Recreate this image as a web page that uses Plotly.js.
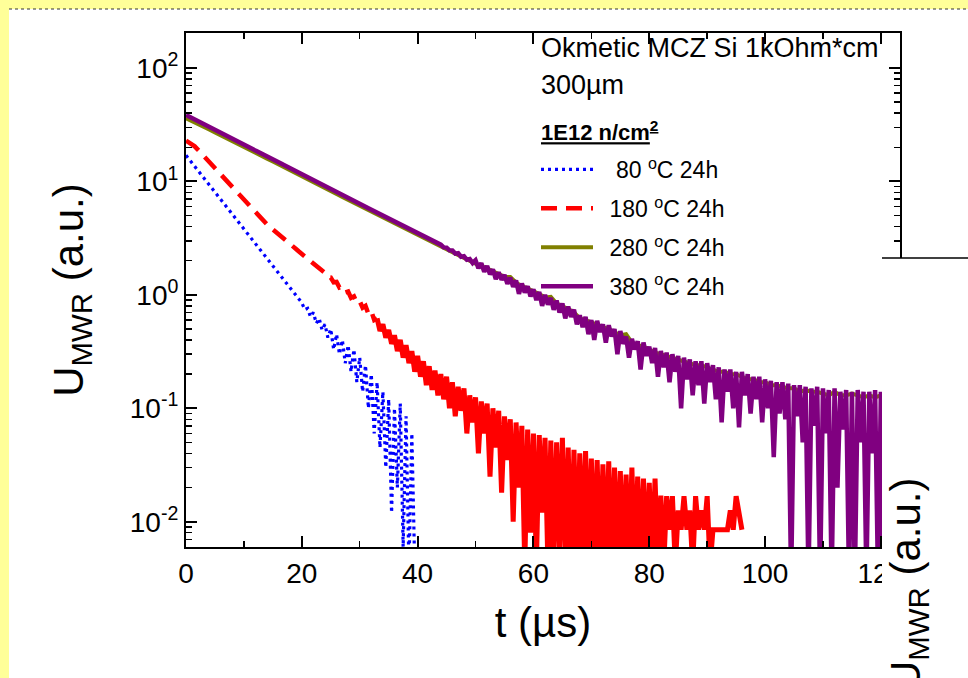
<!DOCTYPE html>
<html>
<head>
<meta charset="utf-8">
<script src="https://cdn.plot.ly/plotly-3.0.1.min.js"></script>
<style>
html,body{margin:0;padding:0;background:#FFFF99;}
#chart{width:968px;height:678px;}
</style>
</head>
<body>
<div id="chart"></div>
<script>
// ---------------- data ----------------
const seriesNames = ['\u2002\u00a080 <sup>o</sup>C 24h', '\u2002180 <sup>o</sup>C 24h', '\u2002280 <sup>o</sup>C 24h', '\u2002380 <sup>o</sup>C 24h'];
const seriesColors = ['#0000FF', '#FF0000', '#808000', '#800080'];

// sampling steps in microseconds (all series start at t = 0)
const t80Step = 0.5, t180Step = 0.5, t280Step = 1.0, t380Step = 0.5;
// time from which the 180 C trace is noisy enough to look solid
const t180NoisyFrom = 33;

// U_MWR (a.u.) for 80 C 24h
const u80 = [
17.0, 15.8, 14.6, 13.6, 12.6, 11.7, 10.9, 10.1, 9.35, 8.68,
8.05, 7.47, 6.93, 6.43, 5.97, 5.54, 5.14, 4.77, 4.43, 4.11,
3.81, 3.54, 3.28, 3.05, 2.83, 2.62, 2.43, 2.26, 2.10, 1.94,
1.80, 1.67, 1.55, 1.44, 1.34, 1.24, 1.15, 1.07, 0.99, 0.92,
0.853, 0.74, 0.76, 0.64, 0.70, 0.56, 0.62, 0.49, 0.55, 0.42,
0.50, 0.33, 0.45, 0.30, 0.40, 0.25, 0.36, 0.21, 0.33, 0.17,
0.28, 0.14, 0.24, 0.10, 0.20, 0.06, 0.17, 0.045, 0.14, 0.03,
0.12, 0.012, 0.10, 0.02, 0.11, 0.006, 0.085, 0.004, 0.06, 0.004
];

// U_MWR (a.u.) for 180 C 24h
const u180 = [
22.9, 22.1, 21.4, 20.4, 19.2, 18.0, 16.9, 15.8, 14.9, 14.0,
13.1, 12.3, 11.5, 10.8, 10.1, 9.53, 8.93, 8.38, 7.87, 7.38,
6.92, 6.49, 6.10, 5.71, 5.37, 5.04, 4.73, 4.44, 4.17, 3.96,
3.78, 3.59, 3.42, 3.25, 3.09, 2.94, 2.80, 2.66, 2.54, 2.41,
2.29, 2.18, 2.07, 1.97, 1.88, 1.79, 1.70, 1.62,
1.56, 1.43, 1.42, 1.29, 1.30, 1.16, 1.18, 1.05, 1.07, 0.94,
0.97, 0.85, 0.88, 0.77, 0.80, 0.68, 0.72, 0.60, 0.62, 0.48,
0.55, 0.42, 0.49, 0.37, 0.44, 0.32, 0.40, 0.28, 0.36, 0.25,
0.32, 0.21, 0.29, 0.19, 0.26, 0.16, 0.235, 0.145, 0.215, 0.13,
0.20, 0.12, 0.19, 0.10, 0.17, 0.085, 0.155, 0.095, 0.15, 0.06,
0.13, 0.075, 0.125, 0.04, 0.115, 0.06, 0.11, 0.025, 0.10, 0.045,
0.095, 0.018, 0.085, 0.035, 0.08, 0.01, 0.075, 0.02, 0.07, 0.004,
0.065, 0.008, 0.06, 0.004, 0.058, 0.012, 0.055, 0.004, 0.052, 0.004,
0.05, 0.006, 0.055, 0.004, 0.045, 0.004, 0.043, 0.004, 0.04, 0.005,
0.042, 0.004, 0.036, 0.004, 0.035, 0.004, 0.032, 0.004, 0.034, 0.004,
0.030, 0.004, 0.028, 0.004, 0.026, 0.004, 0.03, 0.004, 0.025, 0.004,
0.024, 0.004, 0.022, 0.004, 0.024, 0.004, 0.017, 0.004, 0.0168, 0.0085,
0.0168, 0.004, 0.0126, 0.0085, 0.0168, 0.0085, 0.0126, 0.004, 0.0168, 0.0085,
0.0126, 0.0085, 0.0168, 0.004, 0.0085, 0.0085, 0.0085, 0.0085, 0.0085, 0.0085,
0.0126, 0.0085, 0.0168, 0.0126, 0.0085
];

// U_MWR (a.u.) for 280 C 24h
const u280 = [
36.0, 34.2, 32.3, 30.4, 28.7, 27.1, 25.6, 24.1, 22.7, 21.4,
20.2, 19.0, 17.9, 16.9, 15.9, 15.0, 14.1, 13.3, 12.5, 11.8,
11.1, 10.5, 9.85, 9.28, 8.74, 8.23, 7.75, 7.30, 6.88, 6.48,
6.10, 5.75, 5.42, 5.10, 4.81, 4.53, 4.27, 4.02, 3.79, 3.57,
3.37, 3.17, 2.99, 2.82, 2.66, 2.51, 2.37, 2.24, 2.11, 1.99,
1.88, 1.80, 1.70, 1.62, 1.50, 1.44, 1.44, 1.28, 1.20, 1.14,
1.07, 1.02, 0.95, 0.96, 0.84, 0.80, 0.75, 0.70, 0.62, 0.60,
0.57, 0.55, 0.52, 0.50, 0.47, 0.44, 0.45, 0.38, 0.36, 0.35,
0.33, 0.31, 0.30, 0.29, 0.28, 0.27, 0.26, 0.25, 0.24, 0.24,
0.23, 0.22, 0.21, 0.21, 0.20, 0.20, 0.19, 0.18, 0.18, 0.17,
0.17, 0.16, 0.16, 0.155, 0.15, 0.15, 0.14, 0.145, 0.14, 0.14,
0.135, 0.13, 0.14, 0.13, 0.13, 0.135, 0.13, 0.125, 0.13, 0.125,
0.13, 0.125, 0.125, 0.13
];

// U_MWR (a.u.) for 380 C 24h
const u380 = [
38.5, 37.4, 36.3, 35.2, 34.1, 33.1, 32.2, 31.2, 30.3, 29.4,
28.5, 27.7, 26.9, 26.1, 25.3, 24.6, 23.8, 23.1, 22.4, 21.8,
21.1, 20.5, 19.9, 19.3, 18.7, 18.2, 17.6, 17.1, 16.6, 16.1,
15.6, 15.2, 14.7, 14.3, 13.9, 13.5, 13.1, 12.7, 12.3, 11.9,
11.6, 11.2, 10.9, 10.6, 10.3, 9.97, 9.67, 9.39, 9.11, 8.84,
8.58, 8.33, 8.08, 7.84, 7.61, 7.39, 7.17, 6.96, 6.75, 6.55,
6.36, 6.17, 5.99, 5.81, 5.64, 5.47, 5.31, 5.15, 5.00, 4.85,
4.71, 4.57, 4.43, 4.30, 4.18, 4.05, 3.93, 3.82, 3.70, 3.59,
3.49, 3.36, 3.30, 3.16, 3.11, 2.96, 2.93, 2.80, 2.77, 2.62,
2.61, 2.47, 2.46, 2.31, 2.33, 2.17, 2.19, 2.04, 2.07, 1.91,
2.02, 1.72, 1.90, 1.60, 1.80, 1.52, 1.68, 1.38, 1.58, 1.36,
1.50, 1.25, 1.42, 1.18, 1.34, 1.02, 1.26, 1.05, 1.19, 0.97,
1.12, 0.90, 1.06, 0.80, 1.00, 0.82, 0.94, 0.74, 0.89, 0.70,
0.84, 0.62, 0.79, 0.64, 0.74, 0.55,
0.66, 0.52, 0.64, 0.45, 0.60, 0.40, 0.59, 0.47, 0.55, 0.38,
0.54, 0.43, 0.50, 0.30, 0.48, 0.37, 0.43, 0.28, 0.41, 0.33,
0.39, 0.22, 0.38, 0.29, 0.35, 0.25, 0.34, 0.19, 0.32, 0.23,
0.31, 0.17, 0.30, 0.21, 0.29, 0.10, 0.28, 0.18, 0.27, 0.13,
0.26, 0.16, 0.26, 0.11, 0.25, 0.17, 0.24, 0.12, 0.23, 0.075,
0.22, 0.14, 0.22, 0.10, 0.21, 0.068, 0.21, 0.13, 0.20, 0.09,
0.19, 0.12, 0.19, 0.075,
0.18, 0.10, 0.175, 0.037, 0.17, 0.09, 0.17, 0.08, 0.165, 0.003,
0.16, 0.085, 0.16, 0.05, 0.155, 0.003, 0.15, 0.07, 0.155, 0.003,
0.15, 0.06, 0.145, 0.003, 0.15, 0.02, 0.14, 0.065, 0.145, 0.003,
0.14, 0.003, 0.145, 0.05, 0.14, 0.003, 0.14, 0.04, 0.145, 0.003,
0.14, 0.003, 0.14, 0.055, 0.135, 0.003, 0.14
];

const xTickVals = [0, 20, 40, 60, 80, 100, 120];
const yTickVals = [0.01, 0.1, 1, 10, 100];
const yTickText = ['10<sup>-2</sup>', '10<sup>-1</sup>', '10<sup>0</sup>', '10<sup>1</sup>', '10<sup>2</sup>'];

// ---------------- build ----------------
function timeGrid(n, step) { const a = []; for (let i = 0; i < n; i++) a.push(Math.round(i * step * 100) / 100); return a; }

const FONT = 'Liberation Sans, Arial, Helvetica, sans-serif';
const L = 186, R = 68, T = 33, B = 131, PW = 968 - L - R, PH = 678 - T - B;
const px = v => (v - L) / PW;          // page pixel -> paper x
const py = v => (678 - B - v) / PH;    // page pixel -> paper y

const x80 = timeGrid(u80.length, t80Step);
const x180 = timeGrid(u180.length, t180Step);
const split180 = x180.indexOf(t180NoisyFrom);

const traces = [
  {x: x80, y: u80, name: seriesNames[0], legendgroup: 'g1',
   mode: 'lines', line: {color: seriesColors[0], width: 3.2, dash: '3px,4px'}},
  {x: x180.slice(0, split180 + 1), y: u180.slice(0, split180 + 1), name: seriesNames[1], legendgroup: 'g2',
   mode: 'lines', line: {color: seriesColors[1], width: 4.5, dash: '16px,9px'}},
  {x: x180.slice(split180), y: u180.slice(split180), name: seriesNames[1], legendgroup: 'g2', showlegend: false,
   mode: 'lines', line: {color: seriesColors[1], width: 5}},
  {x: timeGrid(u280.length, t280Step), y: u280, name: seriesNames[2], legendgroup: 'g3',
   mode: 'lines', line: {color: seriesColors[2], width: 4}},
  {x: timeGrid(u380.length, t380Step), y: u380, name: seriesNames[3], legendgroup: 'g4',
   mode: 'lines', line: {color: seriesColors[3], width: 4.5}}
];

const yMinor = [];
for (let e = -3; e <= 2; e++) for (let m = 2; m <= 9; m++) yMinor.push(m * Math.pow(10, e));

const axisCommon = {
  showline: true, linecolor: '#000', linewidth: 2, mirror: 'ticks',
  ticks: 'inside', ticklen: 11, tickwidth: 2, tickcolor: '#000',
  showgrid: false, zeroline: false,
  tickfont: {family: FONT, size: 28, color: '#000'}
};

const layout = {
  width: 968, height: 678,
  paper_bgcolor: '#FFFF99', plot_bgcolor: '#FFFFFF',
  margin: {l: L, r: R, t: T, b: B, pad: 0},
  font: {family: FONT, color: '#000'},
  xaxis: Object.assign({}, axisCommon, {
    range: [0, 123.3], tickmode: 'array', tickvals: xTickVals,
    minor: {dtick: 10, tick0: 0, ticks: 'inside', ticklen: 6, tickwidth: 1.5, tickcolor: '#000'},
    title: {text: 't (\u00b5s)', font: {family: FONT, size: 42}, standoff: 20}
  }),
  yaxis: Object.assign({}, axisCommon, {
    type: 'log', range: [-2.223, 2.309], tickmode: 'array', tickvals: yTickVals, ticktext: yTickText,
    minor: {tickmode: 'array', tickvals: yMinor, ticks: 'inside', ticklen: 6, tickwidth: 1.5, tickcolor: '#000'},
    title: {text: 'U<sub>MWR</sub> (a.u.)', font: {family: FONT, size: 42}, standoff: 33}
  }),
  showlegend: true,
  legend: {
    x: px(536), y: py(148), xanchor: 'left', yanchor: 'top',
    bgcolor: 'rgba(0,0,0,0)', borderwidth: 0,
    font: {family: FONT, size: 23, color: '#000'},
    itemwidth: 52, traceorder: 'grouped', tracegroupgap: 6
  },
  shapes: [
    // white slide area
    {type: 'rect', xref: 'paper', yref: 'paper', layer: 'below',
     x0: px(9), x1: px(968), y0: py(678), y1: py(9), fillcolor: '#FFFFFF', line: {width: 0}},
    {type: 'line', xref: 'paper', yref: 'paper', layer: 'below',
     x0: px(9), x1: px(968), y0: py(9), y1: py(9), line: {color: '#333', width: 1, dash: 'dot'}},
    // neighbouring chart overlapping on the right
    {type: 'rect', xref: 'paper', yref: 'paper', layer: 'above',
     x0: px(882), x1: px(970), y0: py(680), y1: py(258), fillcolor: '#FFFFFF', line: {width: 0}},
    {type: 'line', xref: 'paper', yref: 'paper', layer: 'above',
     x0: px(882), x1: px(970), y0: py(258), y1: py(258), line: {color: '#000', width: 1.5}}
  ],
  annotations: [
    {text: 'Okmetic MCZ Si 1kOhm*cm', xref: 'paper', yref: 'paper', x: px(539), y: py(48),
     xanchor: 'left', yanchor: 'middle', showarrow: false, font: {family: FONT, size: 27}},
    {text: '300\u00b5m', xref: 'paper', yref: 'paper', x: px(539), y: py(85),
     xanchor: 'left', yanchor: 'middle', showarrow: false, font: {family: FONT, size: 27}},
    {text: '<b><u>1E12 n/cm<sup>2</sup></u></b>', xref: 'paper', yref: 'paper', x: px(539), y: py(131),
     xanchor: 'left', yanchor: 'middle', showarrow: false, font: {family: FONT, size: 22}},
    {text: 'U<sub>MWR</sub> (a.u.)', xref: 'paper', yref: 'paper', x: px(908), y: py(584),
     xanchor: 'center', yanchor: 'middle', textangle: -90, showarrow: false,
     font: {family: FONT, size: 42}}
  ]
};

Plotly.newPlot('chart', traces, layout, {staticPlot: true, displayModeBar: false});
</script>
</body>
</html>
